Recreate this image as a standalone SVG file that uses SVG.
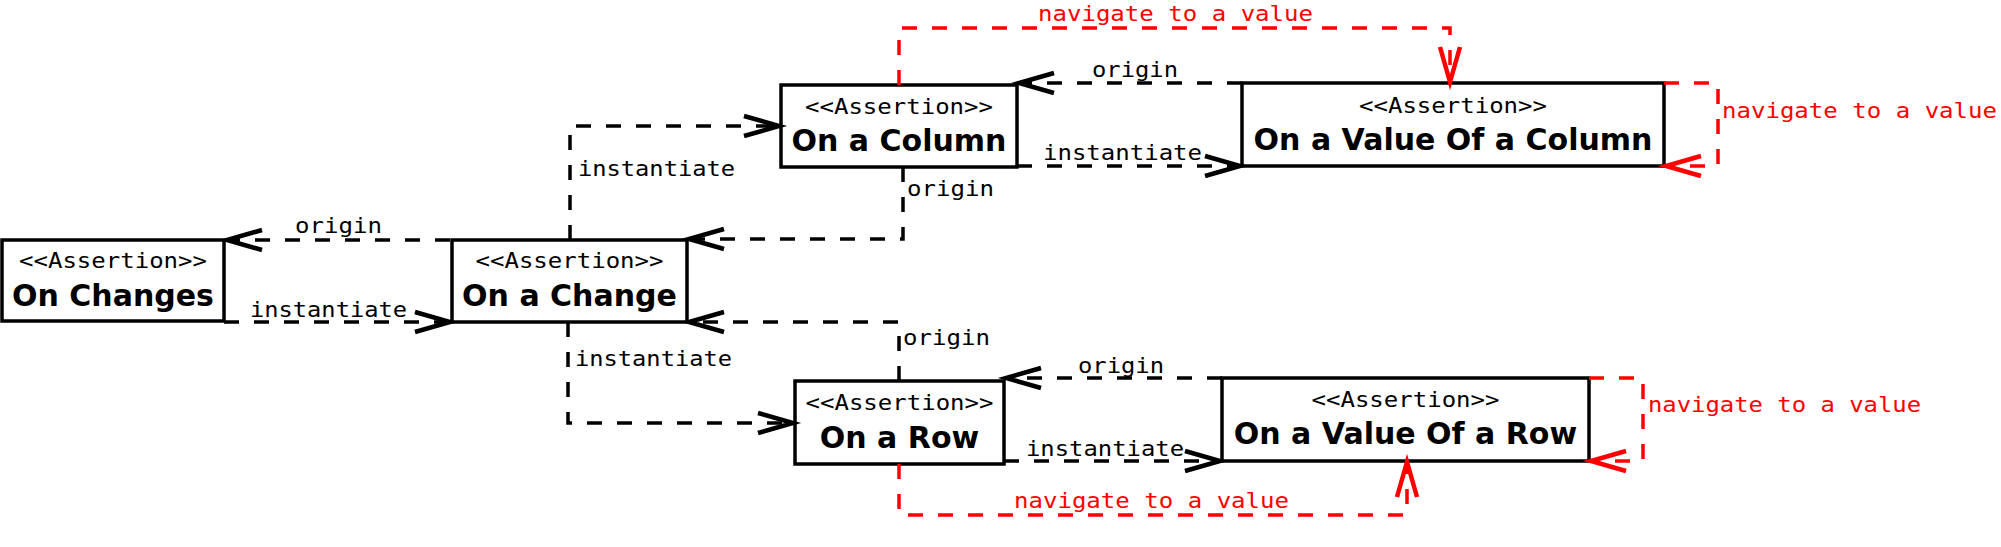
<svg xmlns="http://www.w3.org/2000/svg" width="2001" height="547" viewBox="0 0 2001 547">
<style>
.box{fill:#fff;stroke:#000;stroke-width:3.5}
.st{font-family:"DejaVu Sans Mono","Liberation Mono",monospace;font-size:21px;fill:#000}
.tt{font-family:"DejaVu Sans","Liberation Sans",sans-serif;font-weight:bold;font-size:30px;fill:#000}
.lbl{font-family:"DejaVu Sans Mono","Liberation Mono",monospace;font-size:21px;fill:#000}
.rl{font-family:"DejaVu Sans Mono","Liberation Mono",monospace;font-size:21px;fill:#ff0000}
.c{fill:none;stroke:#000;stroke-width:3.5;stroke-dasharray:15 15}
.r{fill:none;stroke:#ff0000;stroke-width:3.5;stroke-dasharray:15 15}
</style>
<defs>
<marker id="ab" markerUnits="userSpaceOnUse" markerWidth="44" markerHeight="28" viewBox="-40 -14 44 28" refX="0" refY="0" orient="auto" overflow="visible">
<path d="M-35,-10 L0,0 L-35,10" fill="none" stroke="#000" stroke-width="4.5" stroke-dasharray="none"/>
</marker>
<marker id="ar" markerUnits="userSpaceOnUse" markerWidth="44" markerHeight="28" viewBox="-40 -14 44 28" refX="0" refY="0" orient="auto" overflow="visible">
<path d="M-35,-10 L0,0 L-35,10" fill="none" stroke="#ff0000" stroke-width="4.5" stroke-dasharray="none"/>
</marker>
</defs>
<rect width="2001" height="547" fill="#fff"/>
<g id="n1">
<rect class="box" x="2" y="240" width="222" height="81"/>
<text class="st" x="113" y="268" text-anchor="middle" textLength="188" lengthAdjust="spacingAndGlyphs">&lt;&lt;Assertion&gt;&gt;</text>
<text class="tt" x="113" y="306" text-anchor="middle">On Changes</text>
</g>
<g id="n2">
<rect class="box" x="452" y="240" width="235" height="82"/>
<text class="st" x="569.5" y="268" text-anchor="middle" textLength="188" lengthAdjust="spacingAndGlyphs">&lt;&lt;Assertion&gt;&gt;</text>
<text class="tt" x="569.5" y="306" text-anchor="middle">On a Change</text>
</g>
<g id="n3">
<rect class="box" x="781" y="85" width="236" height="82"/>
<text class="st" x="899" y="114" text-anchor="middle" textLength="188" lengthAdjust="spacingAndGlyphs">&lt;&lt;Assertion&gt;&gt;</text>
<text class="tt" x="899" y="151" text-anchor="middle">On a Column</text>
</g>
<g id="n4">
<rect class="box" x="1242" y="83" width="422" height="83"/>
<text class="st" x="1453" y="113" text-anchor="middle" textLength="188" lengthAdjust="spacingAndGlyphs">&lt;&lt;Assertion&gt;&gt;</text>
<text class="tt" x="1453" y="150" text-anchor="middle">On a Value Of a Column</text>
</g>
<g id="n5">
<rect class="box" x="795" y="381" width="209" height="83"/>
<text class="st" x="899.5" y="410" text-anchor="middle" textLength="188" lengthAdjust="spacingAndGlyphs">&lt;&lt;Assertion&gt;&gt;</text>
<text class="tt" x="899.5" y="448" text-anchor="middle">On a Row</text>
</g>
<g id="n6">
<rect class="box" x="1222" y="378" width="367" height="83"/>
<text class="st" x="1405.5" y="407" text-anchor="middle" textLength="188" lengthAdjust="spacingAndGlyphs">&lt;&lt;Assertion&gt;&gt;</text>
<text class="tt" x="1405.5" y="444" text-anchor="middle">On a Value Of a Row</text>
</g>
<g id="connectors">
<path class="c" d="M450,240 H227" marker-end="url(#ab)"/>
<text class="lbl" x="295" y="233" textLength="87" lengthAdjust="spacingAndGlyphs">origin</text>
<path class="c" d="M224,322 H450" marker-end="url(#ab)"/>
<text class="lbl" x="250" y="317" textLength="157" lengthAdjust="spacingAndGlyphs">instantiate</text>
<path class="c" d="M570,240 V126 H779" marker-end="url(#ab)"/>
<text class="lbl" x="578" y="176" textLength="157" lengthAdjust="spacingAndGlyphs">instantiate</text>
<path class="c" d="M903,167 V239 H689" marker-end="url(#ab)"/>
<text class="lbl" x="907" y="196" textLength="87" lengthAdjust="spacingAndGlyphs">origin</text>
<path class="c" d="M1242,83 H1019" marker-end="url(#ab)"/>
<text class="lbl" x="1092" y="77" textLength="86" lengthAdjust="spacingAndGlyphs">origin</text>
<path class="c" d="M1017,166 H1240" marker-end="url(#ab)"/>
<text class="lbl" x="1043" y="160" textLength="159" lengthAdjust="spacingAndGlyphs">instantiate</text>
<path class="c" d="M899,381 V322 H689" marker-end="url(#ab)"/>
<text class="lbl" x="903" y="345" textLength="87" lengthAdjust="spacingAndGlyphs">origin</text>
<path class="c" d="M568,322 V423 H793" marker-end="url(#ab)"/>
<text class="lbl" x="575" y="366" textLength="157" lengthAdjust="spacingAndGlyphs">instantiate</text>
<path class="c" d="M1222,378 H1006" marker-end="url(#ab)"/>
<text class="lbl" x="1078" y="373" textLength="86" lengthAdjust="spacingAndGlyphs">origin</text>
<path class="c" d="M1004,461 H1220" marker-end="url(#ab)"/>
<text class="lbl" x="1026" y="456" textLength="158" lengthAdjust="spacingAndGlyphs">instantiate</text>
<path class="r" d="M899,85 V28 H1450 V82" marker-end="url(#ar)"/>
<text class="rl" x="1038" y="21" textLength="275" lengthAdjust="spacingAndGlyphs">navigate to a value</text>
<path class="r" d="M1664,83 H1718 V166 H1666" marker-end="url(#ar)"/>
<text class="rl" x="1722" y="118" textLength="275" lengthAdjust="spacingAndGlyphs">navigate to a value</text>
<path class="r" d="M899,464 V515 H1407 V462" marker-end="url(#ar)"/>
<text class="rl" x="1014" y="508" textLength="275" lengthAdjust="spacingAndGlyphs">navigate to a value</text>
<path class="r" d="M1589,378 H1643 V461 H1591" marker-end="url(#ar)"/>
<text class="rl" x="1648" y="412" textLength="273" lengthAdjust="spacingAndGlyphs">navigate to a value</text>
</g>
</svg>
